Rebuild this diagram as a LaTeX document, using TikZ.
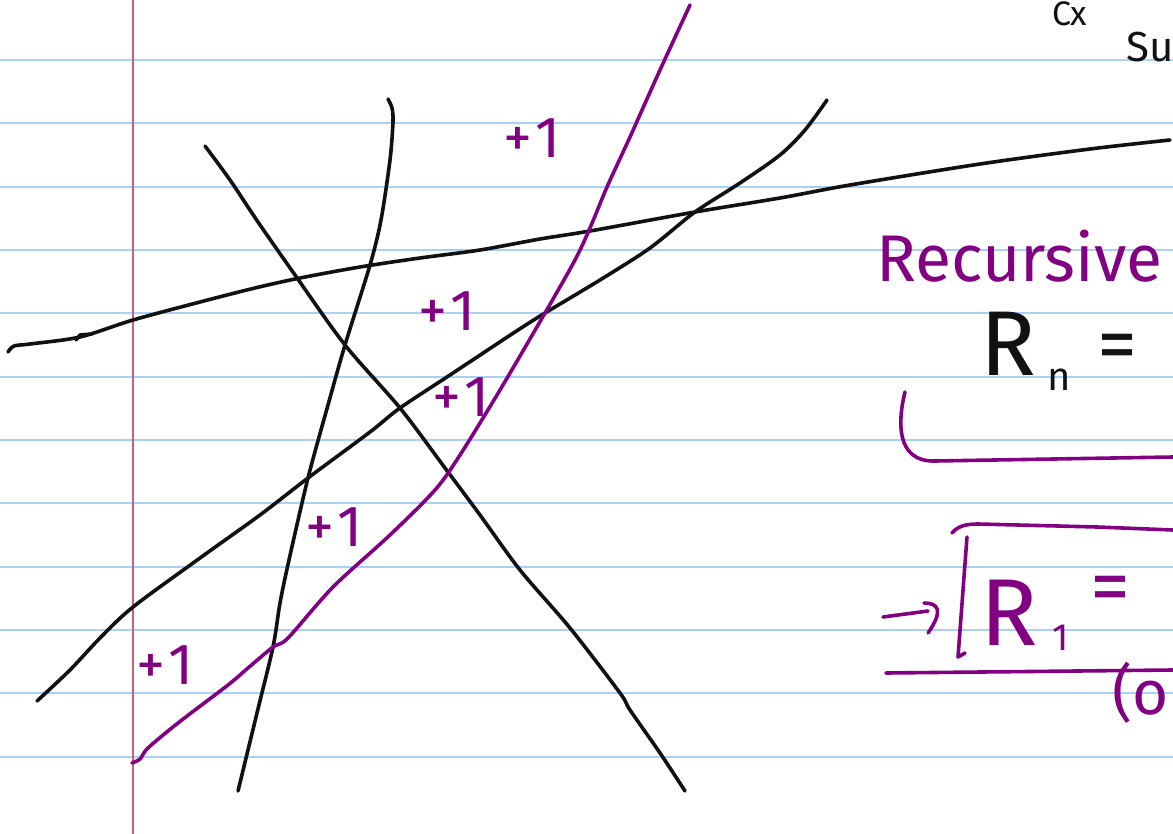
\documentclass[tikz,border=0pt]{standalone}
\usepackage{fontspec}
\setmainfont{Fira Sans}
\usepackage{tikz}
\usetikzlibrary{positioning}
\definecolor{pen}{HTML}{111111}
\definecolor{plum}{HTML}{820082}
\definecolor{ruling}{HTML}{A9D1F7}
\definecolor{marginred}{HTML}{C2607E}

\begin{document}
\begin{tikzpicture}[x=1pt, y=-1pt,
  ruled/.style={draw=ruling, line width=1.8pt},
  inkline/.style={draw=pen, line width=3.6pt, line cap=round, line join=round},
  plumline/.style={draw=plum, line width=3.6pt, line cap=round, line join=round},
  plusone/.style={text=plum, font=\fontsize{58}{58}\selectfont, inner sep=0pt},
  hand/.style={inner sep=0pt, anchor=base west}
]
\useasboundingbox (0,0) rectangle (1173,834);
\clip (0,0) rectangle (1173,834);
\fill[white] (0,0) rectangle (1173,834);
\foreach \k in {0,...,11}
  \draw[ruled] (0,{60+63.33*\k}) -- (1173,{60+63.33*\k});
\draw[marginred, line width=1.6pt] (133,0) -- (133,834);

\draw[inkline] plot[smooth] coordinates {(8,352) (14,346) (30,344) (80,337) (133,320) (200,302) (255,288) (300,278) (360,267) (420,258) (480,250) (540,239) (590,231) (695,212) (780,198) (850,185) (980,164) (1090,149) (1170,140)};
\draw[inkline] (76,340) -- (80,335) -- (92,334);
\draw[inkline] plot[smooth] coordinates {(205,146) (230,180) (258,222) (295,275) (345,345) (400,408) (445,468) (480,515) (520,570) (570,628) (620,693) (630,710) (660,753) (685,791)};
\draw[inkline] plot[smooth] coordinates {(388,99) (392,108) (393,122) (390,160) (381,220) (370,265) (345,345) (328,405) (308,478) (289,560) (280,603) (273,647) (257,713) (238,791)};
\draw[inkline] plot[smooth] coordinates {(37,701) (70,670) (100,638) (133,607) (200,558) (260,515) (308,478) (370,432) (400,408) (450,375) (515,332) (545,313) (600,280) (650,248) (695,212) (740,183) (780,155) (805,130) (827,100)};

\draw[plumline] plot[smooth] coordinates {(132,763) (140,759) (148,748) (178,723) (228,685) (248,668) (273,647) (288,638) (333,587) (390,535) (435,490) (460,455) (500,390) (545,313) (575,260) (590,228) (607,187) (630,137) (660,70) (690,5)};

\node[plusone] (plusa) at (532,138) {+\kern3pt1};
\node[plusone] (plusb) at (447,311) {+\kern3pt1};
\node[plusone] (plusc) at (461,397) {+\kern3pt1};
\node[plusone] (plusd) at (334,527) {+\kern3pt1};
\node[plusone] (pluse) at (165,665) {+\kern3pt1};

\node[hand, text=pen, font=\fontsize{34}{34}\selectfont] (cutx) at (1052,26) {Cx};
\node[hand, text=pen, font=\fontsize{42}{42}\selectfont] (cutsu) at (1126,62) {Su};

\node[hand, text=plum, font=\fontsize{66}{66}\selectfont] (recursive) at (876,282) {Recursive};

\node[hand, text=pen, font=\fontsize{92}{92}\selectfont] (rn) at (980,375) {R};
\node[hand, text=pen, font=\fontsize{40}{40}\selectfont] (rnsub) at (1047,390) {n};
\node[text=pen, font=\fontsize{80}{80}\selectfont, inner sep=0pt] (rneq) at (1117,353) {=};
\draw[plumline] (905,392) .. controls (898,420) and (895,462) .. (935,461) -- (1173,457);

\draw[plumline] (952,533) .. controls (958,526) and (966,524) .. (978,524) -- (1097,527) -- (1173,530);
\draw[plumline] (967,537) -- (958,657) -- (965,653);
\draw[plumline] (883,617) -- (928,611);
\draw[plumline] (924,603) .. controls (938,603) and (944,610) .. (928,633);
\node[hand, text=plum, font=\fontsize{95}{95}\selectfont] (rone) at (980,645) {R};
\node[hand, text=plum, font=\fontsize{38}{38}\selectfont] (ronesub) at (1052,650) {1};
\node[text=plum, font=\fontsize{80}{80}\selectfont, inner sep=0pt] (roneeq) at (1110,595) {=};
\draw[plumline] (886,673) -- (1173,670);
\node[text=plum, font=\fontsize{62}{62}\selectfont, inner sep=0pt, anchor=west] (paren) at (1112,693) {(o};
\end{tikzpicture}
\end{document}
